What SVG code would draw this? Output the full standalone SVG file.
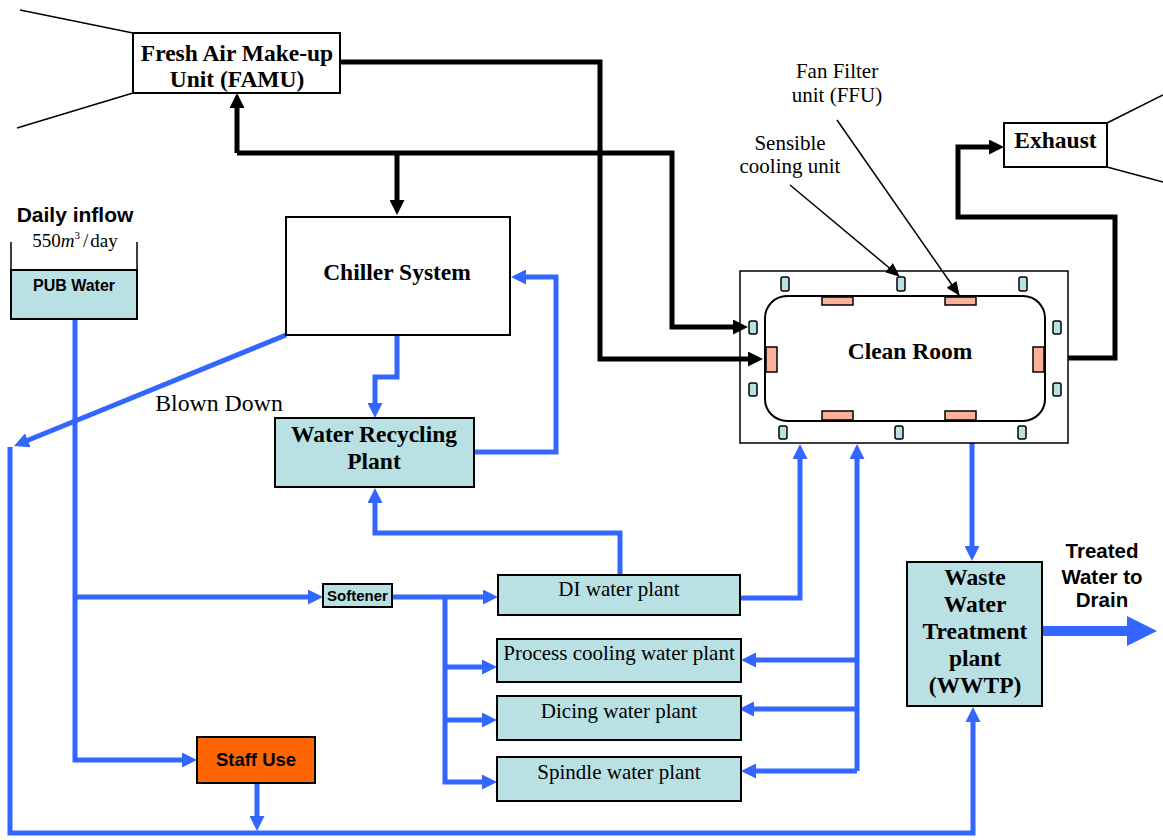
<svg xmlns="http://www.w3.org/2000/svg" width="1163" height="840" viewBox="0 0 1163 840">
  <style>
    .box { stroke: #000; stroke-width: 2; }
    .teal { fill: #b9e0e3; }
    .pink { fill: #fbb09a; stroke: #000; stroke-width: 1.5; }
    .sen { fill: #b9e0e3; stroke: #000; stroke-width: 1.5; }
    .blue { fill: none; stroke: #3366ff; stroke-width: 5; marker-end: url(#ab); }
    .blk { fill: none; stroke: #000; stroke-width: 5; marker-end: url(#ak); }
    .thin { fill: none; stroke: #000; stroke-width: 1.5; }
    .ptr { fill: none; stroke: #000; stroke-width: 1.5; marker-end: url(#at); }
    .sb { font-family: "Liberation Serif", "Times New Roman", serif; font-weight: bold; font-size: 23.5px; text-anchor: middle; fill: #000; }
    .sr { font-family: "Liberation Serif", "Times New Roman", serif; font-size: 21px; text-anchor: middle; fill: #000; }
    .ab { font-family: "Liberation Sans", Arial, sans-serif; font-weight: bold; text-anchor: middle; fill: #000; }
  </style>
  <defs>
    <marker id="ab" viewBox="0 0 15 15" markerWidth="15" markerHeight="15" refX="4" refY="7.5" orient="auto" markerUnits="userSpaceOnUse">
      <path d="M0,0 L15,7.5 L0,15 z" fill="#3366ff"/>
    </marker>
    <marker id="ak" viewBox="0 0 15 15" markerWidth="15" markerHeight="15" refX="4" refY="7.5" orient="auto" markerUnits="userSpaceOnUse">
      <path d="M0,0 L15,7.5 L0,15 z" fill="#000"/>
    </marker>
    <marker id="at" viewBox="0 0 14 12" markerWidth="14" markerHeight="12" refX="13" refY="6" orient="auto" markerUnits="userSpaceOnUse">
      <path d="M0,0 L14,6 L0,12 z" fill="#000"/>
    </marker>
  </defs>

  <rect width="1163" height="840" fill="#fff"/>

  <!-- connectors -->
  <g id="connectors">
    <!-- air ducts (black) -->
    <path class="blk" d="M340,62 H600 V359 H752"/>
    <path class="blk" d="M237,153 V104"/>
    <path class="blk" d="M237,153 H672 V327 H737"/>
    <path class="blk" d="M397,153 V204"/>
    <path class="blk" d="M1068,358 H1115 V217 H958 V147 H993"/>
    <!-- label pointers -->
    <path class="ptr" d="M790,185 L899,276"/>
    <path class="ptr" d="M837,120 L959,295"/>
    <!-- water lines (blue) -->
    <path class="blue" d="M75,320 V760 H186"/>
    <path class="blue" d="M75,597 H312"/>
    <path class="blue" d="M392,597 H487"/>
    <path class="blue" d="M445,597 V782 H486"/>
    <path class="blue" d="M445,667 H486"/>
    <path class="blue" d="M445,720 H486"/>
    <path class="blue" d="M620,575 V533 H375 V499"/>
    <path class="blue" d="M397,335 V377 H375 V407"/>
    <path class="blue" d="M474,452 H556 V277 H522"/>
    <path class="blue" d="M286,335 L24.2,441.8"/>
    <path class="blue" d="M10,447 V833 H973 V718"/>
    <path class="blue" d="M257,783 V820"/>
    <path class="blue" d="M740,598 H800 V455"/>
    <path class="blue" d="M857,771 V455"/>
    <path class="blue" d="M857,660 H752"/>
    <path class="blue" d="M857,709 H750"/>
    <path class="blue" d="M857,771 H752"/>
    <path class="blue" d="M972,443 V550"/>
    <!-- treated water outlet -->
    <path d="M1042,631 H1128" stroke="#3366ff" stroke-width="10" fill="none"/>
    <path d="M1127,616 L1157,631 L1127,646 z" fill="#3366ff"/>
  </g>

  <!-- Fresh Air Make-up Unit -->
  <g id="famu">
    <path class="thin" d="M20,10 L133,33 M17,128 L133,93"/>
    <rect class="box" x="133" y="33" width="207" height="60" fill="#fff"/>
    <text class="sb" x="237" y="61">Fresh Air Make-up</text>
    <text class="sb" x="237" y="87">Unit (FAMU)</text>
  </g>

  <!-- Exhaust -->
  <g id="exhaust">
    <path class="thin" d="M1107,123 L1163,95 M1107,167 L1163,182"/>
    <rect class="box" x="1004" y="123" width="103" height="44" fill="#fff"/>
    <text class="sb" x="1055.5" y="148">Exhaust</text>
  </g>

  <!-- Chiller System -->
  <g id="chiller">
    <rect class="box" x="286" y="217" width="224" height="118" fill="#fff" stroke-width="1.5"/>
    <text class="sb" x="397" y="280">Chiller System</text>
  </g>

  <!-- Water Recycling Plant -->
  <g id="wrp">
    <rect class="box teal" x="275" y="418" width="199" height="69"/>
    <text class="sb" x="374" y="442">Water Recycling</text>
    <text class="sb" x="374" y="469">Plant</text>
  </g>

  <!-- Daily inflow tank -->
  <g id="pub">
    <text class="ab" x="75" y="222" font-size="21">Daily inflow</text>
    <text x="75" y="247" font-family="Liberation Serif, serif" font-size="19" text-anchor="middle">550<tspan font-style="italic">m</tspan><tspan font-size="11" dy="-8">3</tspan><tspan dy="8" dx="3">/</tspan><tspan dx="2">day</tspan></text>
    <path class="thin" d="M11,242 V270 M137,242 V270"/>
    <rect class="box teal" x="11" y="270" width="126" height="49"/>
    <text class="ab" x="74" y="291" font-size="16">PUB Water</text>
  </g>

  <!-- Softener -->
  <g id="softener">
    <rect class="box teal" x="323" y="584" width="69" height="23"/>
    <text class="ab" x="357.5" y="601" font-size="15">Softener</text>
  </g>

  <!-- Staff Use -->
  <g id="staff">
    <rect class="box" x="197" y="737" width="118" height="46" fill="#ff6600"/>
    <text class="ab" x="256" y="766" font-size="18.5">Staff Use</text>
  </g>

  <!-- plants -->
  <g id="di">
    <rect class="box teal" x="498" y="575" width="242" height="40"/>
    <text class="sr" x="619" y="596">DI water plant</text>
  </g>
  <g id="pcw">
    <rect class="box teal" x="497" y="639" width="244" height="43"/>
    <text class="sr" x="619" y="660">Process cooling water plant</text>
  </g>
  <g id="dicing">
    <rect class="box teal" x="497" y="696" width="244" height="44"/>
    <text class="sr" x="619" y="718">Dicing water plant</text>
  </g>
  <g id="spindle">
    <rect class="box teal" x="497" y="757" width="244" height="44"/>
    <text class="sr" x="619" y="779">Spindle water plant</text>
  </g>

  <!-- Waste Water Treatment plant -->
  <g id="wwtp">
    <rect class="box teal" x="907" y="562" width="135" height="144"/>
    <text class="sb" x="975" y="585">Waste</text>
    <text class="sb" x="975" y="612">Water</text>
    <text class="sb" x="975" y="639">Treatment</text>
    <text class="sb" x="975" y="666">plant</text>
    <text class="sb" x="975" y="693">(WWTP)</text>
  </g>

  <!-- Treated water label -->
  <g id="drain">
    <text class="ab" x="1102" y="558" font-size="20.5">Treated</text>
    <text class="ab" x="1102" y="584" font-size="20.5">Water to</text>
    <text class="ab" x="1102" y="607" font-size="20.5">Drain</text>
  </g>

  <!-- Blow-down label -->
  <g id="blowdown">
    <text x="219" y="411" font-family="Liberation Serif, serif" font-size="23.8" text-anchor="middle">Blown Down</text>
  </g>

  <!-- Clean Room: outer shell, inner room, ceiling filters and cooling coils -->
  <g id="cleanroom">
    <rect x="740" y="271" width="328" height="172" fill="none" stroke="#000" stroke-width="1.5"/>
    <rect x="765" y="296" width="280" height="125" rx="22" fill="none" stroke="#000" stroke-width="2"/>
    <!-- fan filter units -->
    <rect class="pink" x="822" y="297" width="31" height="8"/>
    <rect class="pink" x="945" y="297" width="31" height="8"/>
    <rect class="pink" x="822" y="411" width="31" height="9"/>
    <rect class="pink" x="945" y="411" width="31" height="9"/>
    <rect class="pink" x="766" y="347" width="11" height="25"/>
    <rect class="pink" x="1033" y="347" width="11" height="25"/>
    <!-- sensible cooling units -->
    <rect class="sen" x="781" y="277" width="8" height="14" rx="2"/>
    <rect class="sen" x="897" y="277" width="8" height="14" rx="2"/>
    <rect class="sen" x="1019" y="277" width="8" height="14" rx="2"/>
    <rect class="sen" x="779" y="426" width="8" height="13" rx="2"/>
    <rect class="sen" x="895" y="426" width="8" height="13" rx="2"/>
    <rect class="sen" x="1018" y="426" width="8" height="13" rx="2"/>
    <rect class="sen" x="749" y="321" width="8" height="13" rx="2"/>
    <rect class="sen" x="749" y="383" width="8" height="13" rx="2"/>
    <rect class="sen" x="1053" y="321" width="8" height="13" rx="2"/>
    <rect class="sen" x="1053" y="383" width="8" height="13" rx="2"/>
    <text class="sb" x="910" y="359">Clean Room</text>
  </g>

  <!-- unit labels -->
  <g id="labels">
    <text class="sr" x="837" y="78">Fan Filter</text>
    <text class="sr" x="837" y="102">unit (FFU)</text>
    <text class="sr" x="790" y="150">Sensible</text>
    <text class="sr" x="790" y="173">cooling unit</text>
  </g>
</svg>
